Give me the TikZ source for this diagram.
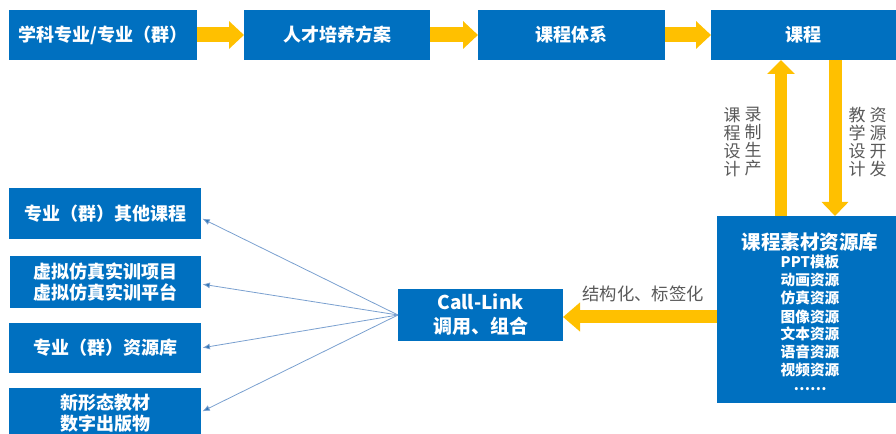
\documentclass[tikz,border=0pt]{standalone}
\usepackage{fontspec}
\setmainfont{Noto Sans CJK SC}
\usetikzlibrary{arrows.meta,calc}
\definecolor{boxblue}{HTML}{0070C0}
\definecolor{ayellow}{HTML}{FFC000}
\definecolor{lgray}{HTML}{595959}
\definecolor{linkblue}{HTML}{7AA0CF}
\definecolor{tipblue}{HTML}{2E75B6}
\begin{document}
\begin{tikzpicture}[x=0.75pt,y=-0.75pt,
  box/.style={fill=boxblue, text=white, inner sep=0pt, outer sep=0pt, align=center,
    font=\bfseries\fontsize{13.5}{15.75}\selectfont},
  harrow/.style={draw=ayellow, line width=11.25pt, -{Triangle[length=11.25pt,width=20.25pt]}},
  uparrow/.style={draw=ayellow, line width=9pt, -{Triangle[length=10.5pt,width=20.25pt]}},
  downarrow/.style={draw=ayellow, line width=9.75pt, -{Triangle[length=10.5pt,width=19.5pt]}},
  midarrow/.style={draw=ayellow, line width=9.75pt, -{Triangle[length=12.75pt,width=21pt]}},
  link/.style={draw=linkblue, line width=0.6pt, shorten >=1.2pt, -{Latex[length=5.5pt,width=4.5pt,fill=tipblue]}},
  vlab/.style={text=lgray, align=center, inner sep=0pt, font=\fontsize{12.75}{13.5}\selectfont},
  hlab/.style={text=lgray, inner sep=0pt, font=\fontsize{13}{15}\selectfont},
  libtitle/.style={text=white, inner sep=0pt, font=\bfseries\fontsize{14.6}{16}\selectfont},
  libitem/.style={text=white, inner sep=0pt, font=\bfseries\fontsize{11}{13}\selectfont}]
\useasboundingbox (0,0) rectangle (896,434);
\clip (0,0) rectangle (896,434);

% top row
\node[box, minimum width=141pt, minimum height=37.5pt] (t1) at (103,35) {学科专业/专业（群）};
\node[box, minimum width=139.5pt, minimum height=37.5pt] (t2) at (337,35) {人才培养方案};
\node[box, minimum width=140.25pt, minimum height=37.5pt] (t3) at (571.5,35) {课程体系};
\node[box, minimum width=138.75pt, minimum height=37.5pt] (t4) at (803.5,35) {课程};

\draw[harrow] (t1.east) -- (t2.west);
\draw[harrow] (t2.east) -- (t3.west);
\draw[harrow] (t3.east) -- (t4.west);

% resource library
\node[box, minimum width=134.25pt, minimum height=140.25pt] (lib) at (806.5,309.5) {};
\node[libtitle] (lt) at (810,242) {课程素材资源库};
\node[libitem] (i1) at (810,262) {PPT模板};
\node[libitem] (i2) at (810,280) {动画资源};
\node[libitem] (i3) at (810,298) {仿真资源};
\node[libitem] (i4) at (810,316.5) {图像资源};
\node[libitem] (i5) at (810,334) {文本资源};
\node[libitem] (i6) at (810,352) {语音资源};
\node[libitem] (i7) at (810,369.5) {视频资源};
\node[libitem] (i8) at (810,389) {……};

% vertical arrows
\coordinate (ux) at (781,0);
\coordinate (dx) at (835,0);
\draw[uparrow] (lib.north -| ux) -- (t4.south -| ux);
\draw[downarrow] (t4.south -| dx) -- (lib.north -| dx);

\node[vlab] (l1) at (732,142) {课\\程\\设\\计};
\node[vlab] (l2) at (753,142) {录\\制\\生\\产};
\node[vlab] (l3) at (857,142) {教\\学\\设\\计};
\node[vlab] (l4) at (878,142) {资\\源\\开\\发};

% call-link
\node[box, minimum width=123.75pt, minimum height=39pt, font=\bfseries\fontsize{14.25}{18}\selectfont] (cl) at (480.5,315) {Call-Link\\调用、组合};
\coordinate (my) at (0,317);
\draw[midarrow] (lib.west |- my) -- (cl.east |- my);
\node[hlab] (sl) at (643,294) {结构化、标签化};

% left boxes
\node[box, minimum width=144pt, minimum height=38.25pt] (a) at (105,213.5) {专业（群）其他课程};
\node[box, minimum width=143.25pt, minimum height=39pt] (b) at (105.5,282) {虚拟仿真实训项目\\虚拟仿真实训平台};
\node[box, minimum width=144pt, minimum height=37.5pt] (c) at (105,348) {专业（群）资源库};
\node[box, minimum width=144pt, minimum height=37.5pt] (d) at (105,413) {新形态教材\\数字出版物};

\draw[link] (cl.west) -- ([yshift=-3.4pt]a.east);
\draw[link] (cl.west) -- ([yshift=-1.5pt]b.east);
\draw[link] (cl.west) -- (c.east);
\draw[link] (cl.west) -- ([yshift=0.75pt]d.east);
\end{tikzpicture}
\end{document}
